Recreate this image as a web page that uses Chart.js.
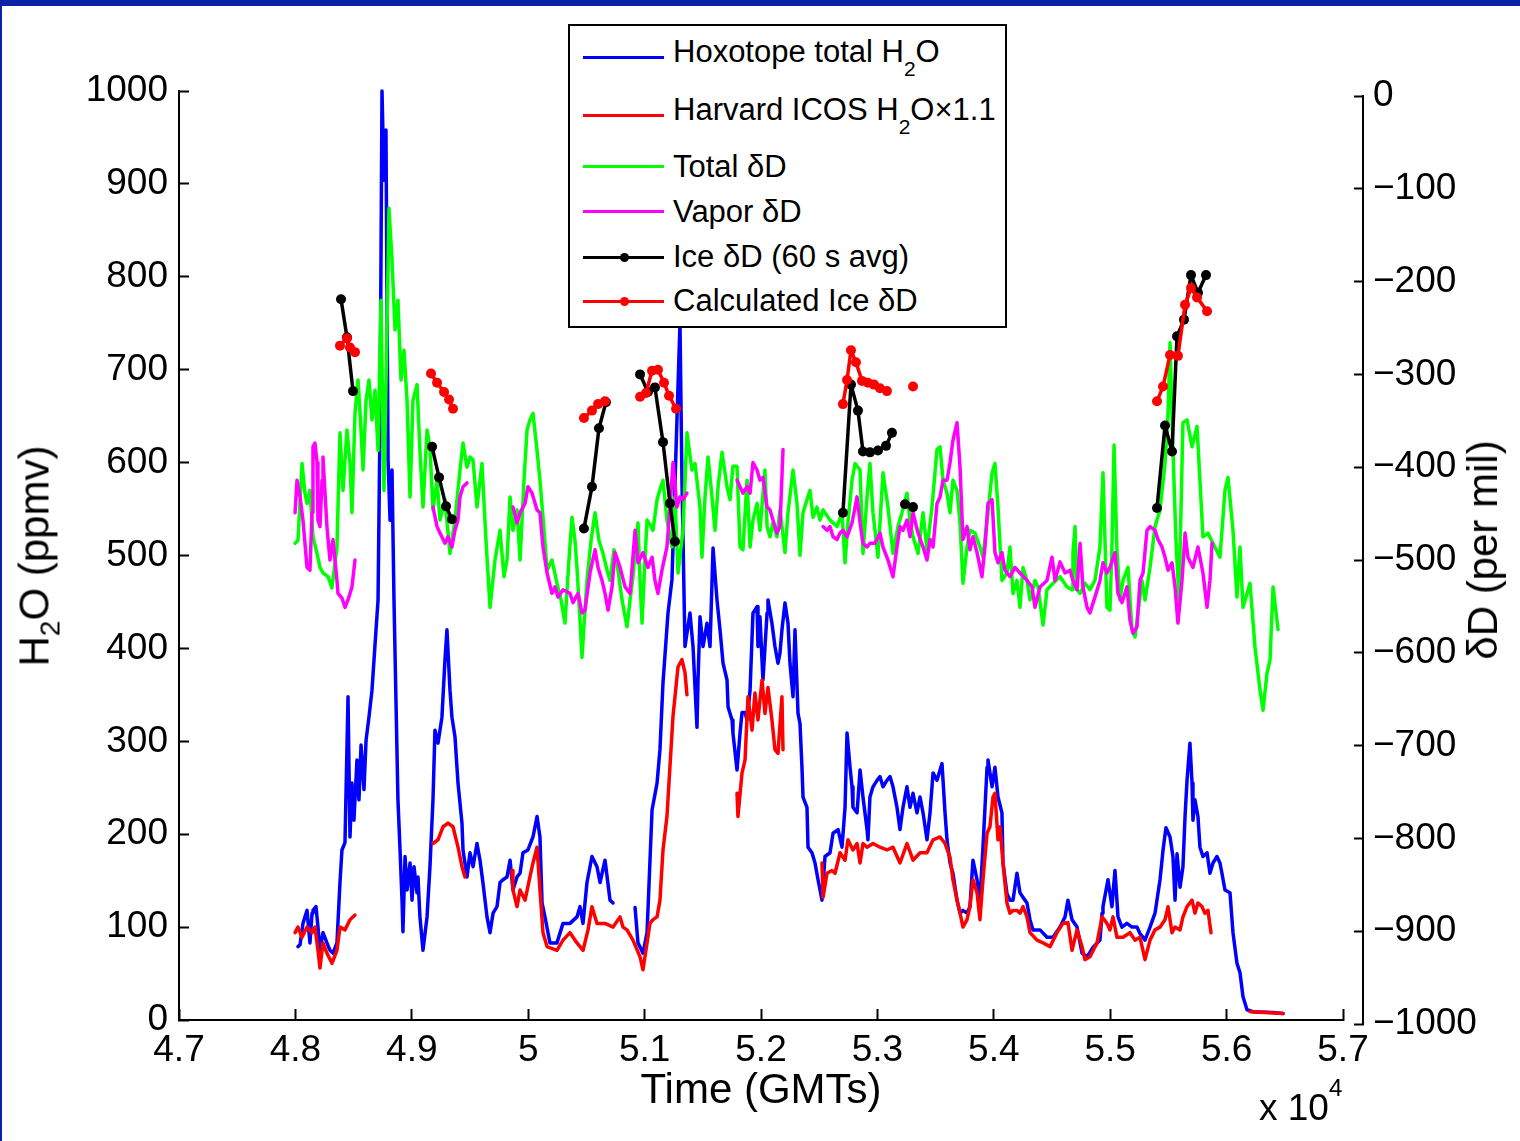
<!DOCTYPE html>
<html><head><meta charset="utf-8">
<script src="https://cdn.jsdelivr.net/npm/chart.js@4"></script>
<style>
html,body{margin:0;padding:0;background:#fff;}
#wrap{position:relative;width:1520px;height:1141px;overflow:hidden;background:#fff;font-family:'Liberation Sans',Arial,Helvetica,sans-serif;color:#000;}
#c{position:absolute;left:0;top:0;}
.fTop{position:absolute;left:0;top:0;width:1520px;height:6px;background:#0b22a6;}
.fLeft{position:absolute;left:0;top:0;width:2px;height:1141px;background:#0b22a6;}
#legend{position:absolute;left:568px;top:24px;width:439px;height:304px;box-sizing:border-box;border:2px solid #000;background:#fff;}
#legend .ln{position:absolute;left:13px;width:81px;height:3px;}
#legend .dot{position:absolute;left:50px;width:9px;height:9px;border-radius:50%;}
#legend .tx{position:absolute;left:103px;font-size:31px;line-height:31px;white-space:nowrap;}
.sb{position:relative;font-size:21px;top:14px;}
.yt{position:absolute;font-size:42px;line-height:42px;white-space:nowrap;transform:translate(-50%,-50%) rotate(-90deg);}
.yt .s2{position:relative;font-size:28px;top:11px;}
#mult{position:absolute;left:1259px;top:1089px;font-size:37px;line-height:37px;white-space:nowrap;}
#mult .sp{position:relative;font-size:24px;top:-24px;}
</style></head>
<body>
<div id="wrap">
<canvas id="c" width="1520" height="1141"></canvas>
<div class="fTop"></div><div class="fLeft"></div>
<div class="yt" style="left:37px;top:556px;">H<span class="s2">2</span>O (ppmv)</div>
<div class="yt" style="left:1483px;top:550px;">δD (per mil)</div>
<div id="mult">x 10<span class="sp">4</span></div>
<div id="legend">
  <div class="ln" style="top:29.5px;background:#0000ff"></div>
  <div class="tx" style="top:10px">Hoxotope total H<span class="sb">2</span>O</div>
  <div class="ln" style="top:87.5px;background:#ff0000"></div>
  <div class="tx" style="top:68px">Harvard ICOS H<span class="sb">2</span>O×1.1</div>
  <div class="ln" style="top:138.5px;background:#00ff00"></div>
  <div class="tx" style="top:125px">Total δD</div>
  <div class="ln" style="top:183.5px;background:#ff00ff"></div>
  <div class="tx" style="top:170px">Vapor δD</div>
  <div class="ln" style="top:229.5px;background:#000"></div>
  <div class="dot" style="top:226.5px;background:#000"></div>
  <div class="tx" style="top:215px">Ice δD (60 s avg)</div>
  <div class="ln" style="top:273.5px;background:#ff0000"></div>
  <div class="dot" style="top:270.5px;background:#ff0000"></div>
  <div class="tx" style="top:259px">Calculated Ice δD</div>
</div>
</div>
<script>
// ---- data: [time (GMT s), value] ----
const xTicks = [47000, 57000, 1000];
const leftTicks = [0, 1000, 100];
const rightTicks = [-1000, 0, 100];

const hoxotopeH2O = [[48022,79],[48040,81],[48065,104],[48100,118],[48125,83],[48143,115],[48151,118],[48177,122],[48194,100],[48211,75],[48237,94],[48271,83],[48297,75],[48323,72],[48357,83],[48383,148],[48400,183],[48426,191],[48452,348],[48469,197],[48486,255],[48503,215],[48529,280],[48546,237],[48564,296],[48589,248],[48607,301],[48632,326],[48658,355],[48684,404],[48710,452],[48727,646],[48744,1000],[48761,904],[48778,958],[48796,603],[48813,538],[48830,592],[48847,452],[48864,344],[48881,237],[48899,183],[48916,129],[48924,95],[48942,176],[48959,140],[48985,169],[49002,129],[49019,165],[49045,137],[49053,154],[49070,111],[49096,75],[49131,111],[49156,165],[49182,237],[49199,312],[49225,298],[49259,326],[49285,388],[49302,420],[49328,355],[49345,326],[49371,305],[49397,255],[49431,212],[49440,183],[49474,154],[49500,180],[49526,165],[49560,190],[49586,172],[49612,147],[49646,111],[49672,94],[49698,115],[49732,122],[49758,148],[49783,151],[49818,154],[49844,172],[49869,140],[49904,154],[49930,158],[49955,180],[49998,183],[50041,197],[50076,219],[50101,197],[50119,126],[50144,111],[50187,83],[50247,83],[50299,104],[50359,104],[50419,111],[50445,122],[50471,104],[50505,148],[50548,176],[50591,165],[50617,148],[50660,172],[50703,129],[50729,126],[50800,null],[50918,121],[50943,83],[50986,72],[51021,94],[51064,226],[51107,255],[51132,291],[51158,363],[51201,438],[51235,474],[51270,614],[51304,750],[51321,581],[51347,402],[51390,438],[51416,402],[51450,315],[51459,366],[51476,434],[51502,402],[51536,427],[51562,402],[51588,508],[51622,452],[51648,420],[51674,384],[51708,366],[51717,337],[51751,323],[51759,309],[51794,269],[51820,309],[51837,331],[51863,331],[51880,323],[51906,355],[51931,438],[51966,445],[51974,402],[51991,434],[52017,366],[52052,438],[52060,452],[52094,427],[52120,402],[52146,384],[52163,395],[52180,420],[52206,449],[52232,427],[52249,384],[52275,348],[52292,420],[52318,330],[52335,319],[52352,272],[52361,240],[52395,229],[52404,186],[52438,180],[52464,169],[52490,151],[52524,129],[52550,176],[52593,180],[52619,201],[52662,205],[52696,186],[52722,229],[52739,309],[52765,272],[52782,251],[52790,229],[52825,223],[52851,269],[52876,240],[52911,205],[52919,194],[52936,240],[52962,251],[52997,258],[53022,262],[53048,251],[53082,258],[53108,262],[53134,251],[53168,229],[53194,205],[53220,229],[53254,251],[53280,229],[53306,244],[53340,223],[53366,240],[53392,223],[53426,194],[53452,223],[53478,266],[53512,258],[53555,276],[53581,223],[53598,194],[53624,169],[53649,158],[53684,129],[53710,115],[53735,118],[53770,115],[53795,122],[53821,172],[53856,151],[53881,129],[53907,186],[53942,272],[53950,280],[53985,251],[54010,272],[54036,240],[54070,223],[54079,169],[54113,136],[54139,129],[54165,129],[54199,158],[54225,137],[54251,132],[54285,126],[54311,108],[54337,97],[54397,97],[54457,89],[54509,89],[54569,100],[54612,111],[54637,129],[54672,108],[54715,100],[54758,72],[54801,68],[54852,78],[54912,86],[54930,115],[54938,122],[54981,151],[55015,122],[55041,161],[55067,111],[55101,100],[55144,104],[55187,100],[55230,100],[55256,93],[55299,86],[55342,100],[55385,115],[55428,151],[55454,183],[55479,207],[55514,197],[55539,176],[55557,129],[55574,179],[55600,143],[55625,165],[55643,219],[55660,258],[55685,298],[55703,255],[55711,215],[55728,237],[55754,219],[55771,186],[55797,176],[55832,180],[55857,158],[55883,169],[55917,176],[55943,169],[55960,158],[55986,140],[56029,137],[56055,94],[56089,61],[56115,51],[56141,25],[56175,11],[56227,9],[56399,8],[56485,7]];

const icosH2O = [[47997,94],[48022,100],[48057,89],[48100,100],[48143,94],[48168,100],[48194,75],[48211,56],[48237,83],[48271,72],[48314,61],[48357,75],[48383,100],[48426,97],[48469,108],[48512,113],[48800,null],[49182,190],[49225,194],[49268,208],[49311,212],[49354,208],[49397,186],[49431,165],[49457,154],[49600,null],[49861,161],[49869,140],[49904,122],[49930,140],[49973,129],[50015,154],[50041,169],[50076,186],[50101,140],[50127,94],[50162,79],[50247,75],[50299,86],[50359,94],[50419,83],[50471,75],[50514,97],[50548,122],[50591,104],[50660,104],[50729,100],[50789,111],[50814,100],[50849,97],[50900,86],[50961,68],[50986,54],[51021,83],[51046,104],[51072,108],[51107,111],[51132,129],[51158,183],[51192,219],[51244,327],[51287,380],[51321,388],[51347,374],[51364,350],[51600,null],[51794,244],[51802,219],[51837,266],[51863,280],[51888,348],[51923,312],[51948,352],[51974,323],[52009,366],[52034,330],[52060,358],[52094,323],[52120,291],[52146,287],[52180,348],[52189,291],[52400,null],[52524,169],[52533,132],[52567,158],[52610,161],[52636,158],[52679,180],[52722,172],[52747,194],[52790,183],[52825,190],[52851,169],[52876,190],[52911,186],[52962,190],[53022,186],[53082,183],[53134,186],[53194,169],[53254,190],[53306,172],[53366,180],[53426,180],[53478,194],[53538,197],[53581,190],[53624,175],[53649,151],[53684,129],[53710,115],[53735,100],[53770,108],[53795,122],[53821,151],[53856,137],[53881,108],[53907,151],[53942,201],[53967,208],[53993,240],[54010,244],[54036,194],[54053,208],[54079,169],[54113,126],[54139,115],[54165,118],[54199,118],[54225,115],[54251,122],[54285,111],[54311,94],[54371,86],[54423,83],[54483,79],[54543,94],[54594,104],[54637,105],[54672,75],[54715,97],[54758,79],[54783,65],[54826,68],[54887,83],[54930,111],[54972,104],[54998,97],[55024,111],[55058,89],[55110,89],[55170,94],[55213,86],[55256,89],[55299,65],[55342,86],[55385,97],[55428,100],[55471,108],[55497,122],[55531,94],[55557,100],[55600,97],[55625,111],[55660,122],[55703,129],[55728,115],[55754,126],[55789,122],[55814,115],[55840,118],[55866,94],[56000,null],[56201,9],[56330,8],[56485,7]];

const totalDD = [[47997,-482],[48022,-479],[48057,-396],[48082,-428],[48100,-439],[48125,-425],[48151,-475],[48186,-493],[48211,-508],[48237,-514],[48280,-518],[48314,-530],[48357,-486],[48383,-363],[48409,-425],[48443,-360],[48469,-396],[48486,-449],[48512,-342],[48538,-306],[48564,-360],[48581,-403],[48607,-328],[48632,-306],[48658,-349],[48684,-317],[48710,-382],[48735,-220],[48761,-425],[48787,-252],[48804,-121],[48830,-177],[48856,-252],[48881,-220],[48907,-306],[48933,-274],[48959,-328],[48985,-432],[49010,-328],[49045,-311],[49070,-382],[49096,-443],[49131,-360],[49156,-378],[49182,-446],[49217,-414],[49242,-457],[49285,-435],[49328,-493],[49371,-457],[49414,-403],[49440,-374],[49474,-400],[49500,-389],[49526,-392],[49560,-443],[49603,-396],[49637,-478],[49672,-551],[49715,-500],[49758,-468],[49792,-518],[49818,-500],[49844,-432],[49869,-468],[49904,-446],[49930,-500],[49964,-414],[49990,-360],[50015,-349],[50041,-342],[50076,-382],[50101,-414],[50136,-468],[50162,-511],[50204,-500],[50247,-525],[50282,-543],[50316,-568],[50350,-500],[50376,-454],[50402,-479],[50419,-508],[50445,-565],[50462,-605],[50488,-554],[50505,-522],[50540,-479],[50574,-449],[50608,-479],[50643,-493],[50677,-511],[50703,-522],[50737,-489],[50763,-503],[50806,-543],[50849,-572],[50875,-543],[50900,-518],[50926,-479],[50943,-460],[50961,-522],[50978,-568],[51003,-500],[51021,-457],[51046,-462],[51072,-468],[51107,-435],[51132,-424],[51158,-414],[51192,-457],[51235,-486],[51261,-432],[51287,-514],[51330,-468],[51364,-363],[51407,-403],[51433,-396],[51476,-443],[51493,-497],[51519,-432],[51545,-389],[51579,-432],[51605,-468],[51631,-421],[51665,-384],[51708,-421],[51734,-435],[51759,-399],[51794,-399],[51820,-486],[51845,-489],[51880,-414],[51906,-486],[51931,-457],[51966,-439],[51991,-468],[52034,-403],[52052,-464],[52077,-475],[52103,-460],[52137,-475],[52163,-446],[52206,-492],[52232,-449],[52275,-403],[52309,-439],[52335,-495],[52361,-449],[52395,-435],[52421,-425],[52447,-454],[52481,-443],[52507,-457],[52533,-446],[52593,-457],[52653,-464],[52696,-449],[52722,-503],[52747,-460],[52782,-414],[52808,-396],[52851,-403],[52876,-493],[52911,-432],[52936,-396],[52962,-449],[53005,-497],[53048,-406],[53091,-443],[53134,-493],[53177,-464],[53211,-449],[53254,-428],[53280,-457],[53306,-475],[53349,-493],[53392,-449],[53426,-489],[53469,-443],[53512,-381],[53538,-378],[53564,-414],[53598,-428],[53624,-449],[53649,-414],[53684,-425],[53710,-460],[53735,-525],[53770,-486],[53795,-468],[53838,-471],[53881,-486],[53907,-497],[53950,-449],[53985,-406],[54010,-396],[54036,-443],[54070,-522],[54113,-514],[54139,-486],[54165,-536],[54199,-522],[54225,-551],[54251,-508],[54285,-522],[54311,-543],[54354,-522],[54380,-529],[54423,-570],[54457,-532],[54509,-525],[54569,-518],[54629,-529],[54672,-532],[54680,-492],[54698,-464],[54715,-532],[54741,-536],[54783,-525],[54826,-532],[54869,-522],[54912,-486],[54938,-406],[54972,-551],[54998,-554],[55015,-486],[55033,-376],[55058,-489],[55084,-543],[55110,-522],[55153,-508],[55187,-575],[55213,-583],[55239,-557],[55273,-522],[55299,-543],[55342,-508],[55385,-464],[55428,-446],[55471,-396],[55497,-342],[55514,-266],[55539,-381],[55565,-479],[55591,-543],[55625,-352],[55660,-349],[55703,-378],[55746,-356],[55797,-475],[55840,-471],[55883,-482],[55943,-497],[55986,-425],[56012,-411],[56055,-468],[56089,-540],[56115,-486],[56141,-551],[56201,-525],[56244,-594],[56287,-640],[56313,-662],[56347,-622],[56373,-608],[56399,-529],[56442,-575]];

const vaporDD = [[47997,-449],[48014,-414],[48040,-432],[48065,-457],[48100,-508],[48125,-511],[48143,-449],[48151,-378],[48168,-374],[48186,-395],[48194,-457],[48211,-464],[48229,-414],[48237,-389],[48271,-464],[48297,-500],[48323,-478],[48357,-522],[48366,-536],[48400,-541],[48426,-551],[48452,-543],[48486,-529],[48512,-500],[48800,null],[49182,-443],[49217,-464],[49242,-471],[49285,-482],[49311,-475],[49345,-486],[49371,-468],[49397,-457],[49414,-432],[49440,-421],[49474,-417],[49600,null],[49869,-443],[49904,-460],[49930,-449],[49973,-439],[49998,-421],[50033,-428],[50076,-446],[50101,-449],[50127,-486],[50162,-514],[50204,-536],[50230,-529],[50256,-540],[50299,-532],[50359,-536],[50385,-546],[50428,-536],[50462,-557],[50488,-554],[50531,-514],[50574,-489],[50600,-508],[50634,-522],[50660,-536],[50686,-554],[50720,-529],[50746,-492],[50789,-508],[50832,-529],[50875,-536],[50918,-468],[50943,-503],[50986,-492],[51029,-508],[51064,-497],[51089,-522],[51115,-536],[51149,-511],[51192,-486],[51218,-443],[51244,-395],[51278,-443],[51304,-432],[51330,-435],[51364,-428],[51600,null],[51794,-414],[51820,-421],[51845,-428],[51880,-421],[51906,-428],[51931,-395],[51966,-403],[51991,-414],[52017,-411],[52052,-443],[52077,-446],[52103,-457],[52137,-471],[52163,-464],[52189,-381],[52400,null],[52533,-464],[52567,-468],[52593,-464],[52619,-475],[52653,-478],[52679,-471],[52704,-468],[52739,-475],[52782,-460],[52825,-432],[52851,-460],[52876,-482],[52911,-486],[52936,-482],[52979,-482],[53022,-471],[53048,-486],[53091,-500],[53134,-518],[53168,-486],[53194,-464],[53220,-468],[53254,-457],[53280,-475],[53306,-449],[53349,-471],[53392,-486],[53426,-500],[53452,-478],[53478,-486],[53512,-439],[53538,-432],[53564,-414],[53598,-414],[53624,-395],[53649,-371],[53684,-352],[53710,-400],[53735,-478],[53770,-464],[53795,-489],[53821,-475],[53856,-492],[53898,-518],[53924,-486],[53950,-439],[53985,-435],[54010,-492],[54036,-503],[54070,-492],[54096,-511],[54139,-518],[54182,-508],[54225,-514],[54285,-522],[54328,-529],[54354,-551],[54397,-529],[54457,-522],[54500,-497],[54526,-522],[54569,-502],[54612,-514],[54655,-511],[54680,-522],[54715,-532],[54741,-482],[54766,-529],[54801,-551],[54826,-557],[54869,-540],[54912,-522],[54938,-503],[54972,-514],[54998,-508],[55041,-492],[55067,-536],[55101,-546],[55144,-529],[55170,-565],[55196,-579],[55230,-572],[55256,-522],[55282,-514],[55316,-468],[55342,-464],[55385,-468],[55411,-478],[55445,-486],[55471,-497],[55497,-511],[55531,-503],[55557,-529],[55582,-568],[55617,-522],[55643,-471],[55668,-497],[55711,-508],[55754,-486],[55797,-514],[55832,-551],[55857,-522],[55875,-482]];

const iceDD60 = [[48392,-219],[48443,-260],[48495,-318],[48800,null],[49174,-378],[49234,-411],[49294,-442],[49345,-456],[49600,null],[50479,-466],[50548,-421],[50608,-358],[50668,-330],[50800,null],[50961,-300],[51029,-319],[51089,-314],[51158,-373],[51218,-439],[51261,-480],[51600,null],[52704,-449],[52773,-311],[52833,-339],[52876,-383],[52936,-384],[53005,-382],[53074,-377],[53125,-363],[53180,null],[53237,-440],[53306,-443],[54000,null],[55402,-444],[55471,-355],[55531,-383],[55574,-259],[55634,-241],[55694,-193],[55754,-212],[55823,-193]];

const calcIceDD = [[48383,-269],[48443,-261],[48469,-271],[48512,-276],[48800,null],[49165,-299],[49217,-309],[49277,-319],[49320,-327],[49354,-337],[49600,null],[50479,-347],[50548,-339],[50600,-332],[50660,-329],[50800,null],[50961,-324],[51012,-320],[51064,-296],[51115,-295],[51167,-309],[51210,-323],[51270,-337],[51600,null],[52704,-332],[52739,-306],[52773,-274],[52816,-287],[52868,-307],[52919,-309],[52971,-311],[53022,-315],[53082,-318],[53200,null],[53306,-313],[54000,null],[55402,-329],[55454,-313],[55514,-279],[55582,-280],[55643,-225],[55694,-207],[55746,-217],[55832,-232]];

const pts = a => a.map(p => ({x: p[0], y: p[1]}));
const FONT = "'Liberation Sans', Arial, Helvetica, sans-serif";
Chart.defaults.font.family = FONT;
Chart.defaults.color = '#000';

const shiftRightAxis = {
  id: 'shiftRightAxis',
  afterLayout(chart) {
    const s = chart.scales.y2;
    s.left = 1363; s.right = 1520; s.width = 157;
    s.top = 96; s.bottom = 1024; s.height = 928;
    s.configure();
  }
};

const lineDs = (label, data, color, axis, order, extra) => Object.assign({
  label, data: pts(data), borderColor: color, backgroundColor: color,
  borderWidth: 3.5, pointRadius: 0, yAxisID: axis, order, spanGaps: false,
  clip: false, tension: 0, borderJoinStyle: 'round', borderCapStyle: 'round'
}, extra || {});

new Chart(document.getElementById('c'), {
  type: 'line',
  data: {
    datasets: [
      lineDs('Hoxotope total H2O', hoxotopeH2O, '#0000ff', 'y', 6),
      lineDs('Harvard ICOS H2O×1.1', icosH2O, '#ff0000', 'y', 5),
      lineDs('Total δD', totalDD, '#00ff00', 'y2', 4),
      lineDs('Vapor δD', vaporDD, '#ff00ff', 'y2', 3),
      lineDs('Ice δD (60 s avg)', iceDD60, '#000000', 'y2', 2, {pointRadius: 5, pointBorderWidth: 0, pointBackgroundColor: '#000'}),
      lineDs('Calculated Ice δD', calcIceDD, '#ff0000', 'y2', 1, {pointRadius: 5, pointBorderWidth: 0, pointBackgroundColor: '#ff0000'})
    ]
  },
  options: {
    responsive: false,
    animation: false,
    devicePixelRatio: 1,
    layout: {padding: {top: 91, left: 0, right: 0, bottom: 0}},
    plugins: {legend: {display: false}, tooltip: {enabled: false}},
    scales: {
      x: {
        type: 'linear', position: 'bottom', min: xTicks[0], max: xTicks[1],
        afterFit: s => { s.height = 121; },
        ticks: {stepSize: xTicks[2], autoSkip: false, maxRotation: 0, padding: 20,
          font: {size: 37}, color: '#000',
          callback: v => String(+(v / 10000).toFixed(1))},
        grid: {drawOnChartArea: false, tickLength: -11, tickWidth: 2, tickColor: '#000', color: '#000'},
        border: {display: true, color: '#000', width: 2},
        title: {display: true, text: 'Time (GMTs)', font: {size: 42}, color: '#000', padding: {top: 0, bottom: 24}}
      },
      y: {
        type: 'linear', position: 'left', min: leftTicks[0], max: leftTicks[1],
        afterFit: s => { s.width = 179; },
        ticks: {stepSize: leftTicks[2], autoSkip: false, padding: 21, font: {size: 37}, color: '#000',
          callback: v => String(v)},
        grid: {drawOnChartArea: false, tickLength: -10, tickWidth: 2, tickColor: '#000', color: '#000'},
        border: {display: true, color: '#000', width: 2}
      },
      y2: {
        type: 'linear', position: 'right', min: rightTicks[0], max: rightTicks[1],
        afterFit: s => { s.width = 177; },
        ticks: {stepSize: rightTicks[2], autoSkip: false, padding: 19, font: {size: 37}, color: '#000',
          callback: v => v < 0 ? '\u2212' + Math.abs(v) : String(v)},
        grid: {drawOnChartArea: false, tickLength: -9, tickWidth: 2, tickColor: '#000', color: '#000'},
        border: {display: true, color: '#000', width: 2}
      }
    }
  },
  plugins: [shiftRightAxis]
});
</script>
</body></html>
